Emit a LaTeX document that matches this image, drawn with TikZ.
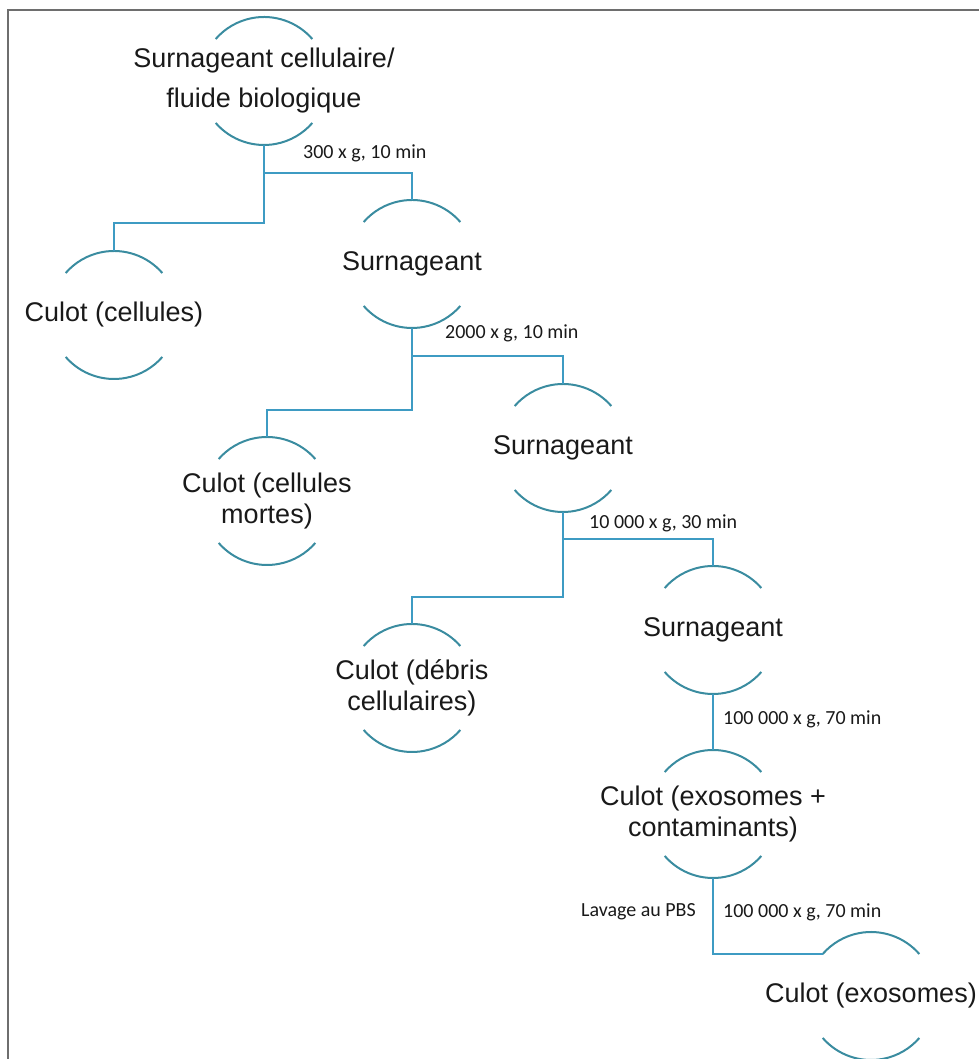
\documentclass[tikz,border=0pt]{standalone}
\usepackage{fontspec}
\setmainfont{Liberation Sans}
\newfontfamily\labfont{Carlito}
\usetikzlibrary{calc}
\definecolor{connc}{RGB}{62,155,195}
\definecolor{arcc}{RGB}{58,140,160}
\definecolor{framec}{RGB}{110,110,110}
\definecolor{txtc}{RGB}{25,25,25}
\begin{document}
\begin{tikzpicture}[x=1pt,y=1pt,
  ring/.style={circle, minimum size=128pt, inner sep=0pt, outer sep=0pt},
  stagetext/.style={font=\fontsize{27}{31}\selectfont, text=txtc, align=center, inner sep=0pt},
  conn/.style={draw=connc, line width=2pt},
  arcline/.style={draw=arcc, line width=2pt},
  steplabel/.style={font=\labfont\fontsize{20}{24}\selectfont, text=txtc, inner sep=0pt},
  frameline/.style={draw=framec, line width=2pt}]
\useasboundingbox (0,0) rectangle (979,1059);
\draw[frameline] (8,0) -- (8,1049) -- (979,1049);

% rings (invisible circles carrying the arcs)
\node[ring] (s1) at (264,978) {};
\node[ring] (c1) at (114,744) {};
\node[ring] (s2) at (412,795) {};
\node[ring] (c2) at (267,558) {};
\node[ring] (s3) at (563,611) {};
\node[ring] (c3) at (412,371) {};
\node[ring] (s4) at (713,429) {};
\node[ring] (c4) at (713,245) {};
\node[ring] (c5) at (871,63) {};

% texts
\node[stagetext, font=\fontsize{27}{40}\selectfont] (s1t) at (s1) {Surnageant cellulaire/\\fluide biologique};
\node[stagetext] (c1t) at (c1) {Culot (cellules)};
\node[stagetext] (s2t) at (s2) {Surnageant};
\node[stagetext] (c2t) at (c2) {Culot (cellules\\mortes)};
\node[stagetext] (s3t) at (s3) {Surnageant};
\node[stagetext] (c3t) at (c3) {Culot (débris\\cellulaires)};
\node[stagetext] (s4t) at (s4) {Surnageant};
\node[stagetext] (c4t) at (c4) {Culot (exosomes +\\contaminants)};
\node[stagetext] (c5t) at (c5) {Culot (exosomes)};

% arcs
\foreach \n in {s1,c1,s2,c2,s3,c3,s4,c4,c5}{
  \draw[arcline] (\n.41) arc[start angle=41, end angle=139, radius=64];
  \draw[arcline] (\n.221) arc[start angle=221, end angle=319, radius=64];
}

% connectors
\coordinate (j1) at ($(s1.south)+(0,-28)$);
\draw[conn] (s1.south) -- (j1) -| (s2.north);
\draw[conn] (j1) -- ++(0,-50) -| (c1.north);

\coordinate (j2) at ($(s2.south)+(0,-28)$);
\draw[conn] (s2.south) -- (j2) -| (s3.north);
\draw[conn] (j2) -- ++(0,-54) -| (c2.north);

\coordinate (j3) at ($(s3.south)+(0,-27)$);
\draw[conn] (s3.south) -- (j3) -| (s4.north);
\draw[conn] (j3) -- ++(0,-58) -| (c3.north);

\draw[conn] (s4.south) -- (c4.north);
\draw[conn] (c4.south) |- (c5.139);

% step labels
\node[steplabel, anchor=west] (l1) at (303,906) {300 x g, 10 min};
\node[steplabel, anchor=west] (l2) at (445,726) {2000 x g, 10 min};
\node[steplabel, anchor=west] (l3) at (589,536) {10 000 x g, 30 min};
\node[steplabel, anchor=west] (l4) at (723,340) {100 000 x g, 70 min};
\node[steplabel, anchor=east] (l5) at (696,147) {Lavage au PBS};
\node[steplabel, anchor=west] (l6) at (723,147) {100 000 x g, 70 min};
\end{tikzpicture}
\end{document}
